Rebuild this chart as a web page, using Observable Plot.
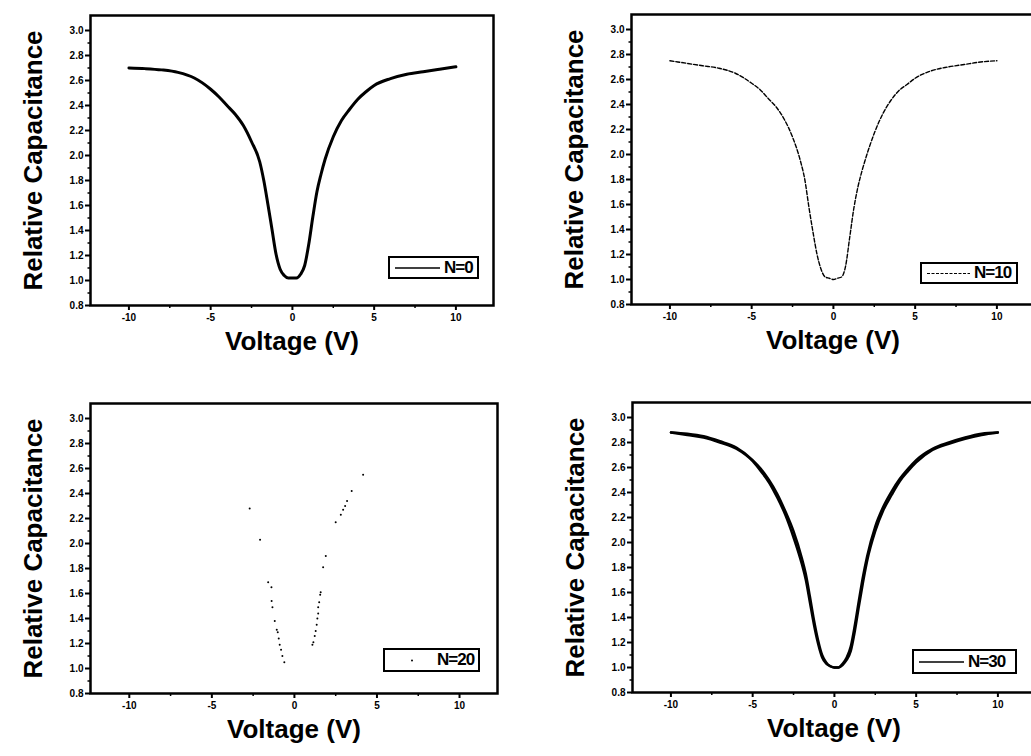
<!DOCTYPE html>
<html>
<head>
<meta charset="utf-8">
<script src="https://cdn.jsdelivr.net/npm/d3@7"></script>
<script src="https://cdn.jsdelivr.net/npm/@observablehq/plot@0.6"></script>
<style>
  html, body { margin: 0; padding: 0; background: #fff; overflow: hidden; }
  #root { position: relative; width: 1031px; height: 756px; overflow: hidden; background: #fff; }
  .panel { position: absolute; }
  .panel svg { max-width: none !important; display: block; }
  .legend { position: absolute; box-sizing: border-box; border: 2.5px solid #000; background: #fff;
            display: flex; align-items: center; font-family: "Liberation Sans", Arial, sans-serif;
            font-weight: bold; font-size: 17px; letter-spacing: -1px; color: #000; }
  .legend svg { display: block; }
</style>
</head>
<body>
<div id="root"></div>
<script>
// ---- data ----
const xTicks = [-10, -5, 0, 5, 10];
const xMinorTicks = [-7.5, -2.5, 2.5, 7.5];
const yTicks = [0.8, 1.0, 1.2, 1.4, 1.6, 1.8, 2.0, 2.2, 2.4, 2.6, 2.8, 3.0];
const yMinorTicks = [0.9, 1.1, 1.3, 1.5, 1.7, 1.9, 2.1, 2.3, 2.5, 2.7, 2.9];

const voltage = [-10, -9, -8, -7, -6, -5, -4.5, -4, -3.5, -3, -2.5, -2, -1.75, -1.5, -1.25, -1, -0.75, -0.5, -0.25,
                 0, 0.25, 0.5, 0.75, 1, 1.25, 1.5, 1.75, 2, 2.5, 3, 3.5, 4, 4.5, 5, 6, 7, 8, 9, 10];

const capN0 = [2.70, 2.695, 2.685, 2.665, 2.62, 2.53, 2.47, 2.40, 2.33, 2.24, 2.11, 1.95, 1.80, 1.61, 1.41, 1.21, 1.09, 1.04, 1.02,
               1.02, 1.02, 1.05, 1.12, 1.29, 1.51, 1.71, 1.85, 1.97, 2.15, 2.28, 2.37, 2.45, 2.51, 2.56, 2.615, 2.65, 2.67, 2.69, 2.71];

const capN10 = [2.75, 2.73, 2.71, 2.69, 2.65, 2.57, 2.52, 2.45, 2.38, 2.28, 2.14, 1.94, 1.80, 1.58, 1.38, 1.20, 1.08, 1.02, 1.01,
                1.00, 1.01, 1.02, 1.11, 1.34, 1.57, 1.74, 1.87, 1.98, 2.17, 2.32, 2.43, 2.51, 2.56, 2.61, 2.67, 2.70, 2.72, 2.74, 2.75];

const voltN20 = [-2.71, -2.08, -1.59, -1.39, -1.38, -1.33, -1.19, -1.07, -1.01, -0.95, -0.89, -0.81, -0.73, -0.61,
                 1.09, 1.15, 1.23, 1.29, 1.35, 1.39, 1.44, 1.44, 1.50, 1.56, 1.59, 1.74, 1.90, 2.50, 2.81, 2.95, 3.07, 3.19, 3.47, 4.16];
const capN20  = [2.28, 2.03, 1.69, 1.65, 1.54, 1.49, 1.38, 1.31, 1.29, 1.24, 1.19, 1.15, 1.10, 1.05,
                 1.19, 1.21, 1.26, 1.30, 1.35, 1.40, 1.44, 1.49, 1.53, 1.59, 1.61, 1.81, 1.90, 2.17, 2.23, 2.27, 2.30, 2.34, 2.42, 2.55];

const capN30up   = [2.88, 2.87, 2.85, 2.81, 2.76, 2.66, 2.59, 2.50, 2.39, 2.25, 2.09, 1.88, 1.75, 1.57, 1.38, 1.22, 1.10, 1.04, 1.01,
                    1.00, 1.00, 1.02, 1.06, 1.13, 1.29, 1.49, 1.68, 1.85, 2.09, 2.26, 2.38, 2.49, 2.57, 2.64, 2.74, 2.79, 2.83, 2.86, 2.88];
const capN30down = [2.88, 2.86, 2.84, 2.80, 2.75, 2.65, 2.57, 2.48, 2.36, 2.22, 2.04, 1.83, 1.70, 1.52, 1.34, 1.19, 1.08, 1.03, 1.01,
                    1.00, 1.00, 1.03, 1.08, 1.17, 1.34, 1.54, 1.73, 1.89, 2.13, 2.29, 2.41, 2.51, 2.59, 2.66, 2.75, 2.80, 2.84, 2.87, 2.88];

const labels = ["N=0", "N=10", "N=20", "N=30"];
const xTitle = "Voltage (V)";
const yTitle = "Relative Capacitance";

// ---- helpers ----
const pairs = (xs, ys) => xs.map((x, i) => ({x, y: ys[i]}));
const FONT = "'Liberation Sans', Arial, sans-serif";

function panel(dataMarks, width) {
  return Plot.plot({
    width: width, height: 380,
    marginLeft: 90, marginRight: 27, marginTop: 15, marginBottom: 75,
    x: {domain: [-12.35, 12.3]},
    y: {domain: [0.8, 3.12]},
    style: {fontFamily: FONT, fontWeight: "bold", background: "transparent", color: "#000", overflow: "visible"},
    marks: [
      Plot.axisX({ticks: xMinorTicks, tickSize: 3, tickFormat: () => "", strokeWidth: 1.5, label: null}),
      Plot.axisX({ticks: xTicks, tickSize: 5, tickPadding: 3, tickFormat: d => String(d), fontSize: 10,
                  fontWeight: "bold", strokeWidth: 2, label: null}),
      Plot.axisY({ticks: yMinorTicks, tickSize: 2.5, tickFormat: () => "", strokeWidth: 1.5, label: null}),
      Plot.axisY({ticks: yTicks, tickSize: 5, tickPadding: 2, tickFormat: d3.format(".1f"), fontSize: 10,
                  fontWeight: "bold", strokeWidth: 2, label: null}),
      ...dataMarks,
      Plot.frame({stroke: "#000", strokeWidth: 2.5}),
      Plot.text([yTitle], {frameAnchor: "left", textAnchor: "middle", rotate: -90, dx: -57, fontSize: 26, fontWeight: "bold", fill: "#000"}),
      Plot.text([xTitle], {frameAnchor: "bottom", textAnchor: "middle", dy: 44, fontSize: 26, fontWeight: "bold", fill: "#000"})
    ]
  });
}

const root = document.getElementById("root");
function place(node, left, top, width) {
  const d = document.createElement("div");
  d.className = "panel";
  d.style.left = left + "px";
  d.style.top = top + "px";
  d.style.width = width + "px";
  d.style.height = "380px";
  d.appendChild(node);
  root.appendChild(d);
}

function legend(left, top, w, h, sampleSvg, text, sampleW) {
  const d = document.createElement("div");
  d.className = "legend";
  d.style.left = left + "px"; d.style.top = top + "px";
  d.style.width = w + "px"; d.style.height = h + "px";
  d.innerHTML = `<svg width="${sampleW}" height="${h - 5}">${sampleSvg}</svg><span>${text}</span>`;
  root.appendChild(d);
}

// Panel 1: N=0
place(panel([
  Plot.line(pairs(voltage, capN0), {x: "x", y: "y", stroke: "#000", strokeWidth: 3, curve: "monotone-x"})
], 520), 0, 0, 520);

// Panel 2: N=10
place(panel([
  Plot.line(pairs(voltage, capN10), {x: "x", y: "y", stroke: "#000", strokeWidth: 1.4, strokeDasharray: "4,2", curve: "monotone-x"})
], 520), 541, -1, 520);

// Panel 3: N=20
place(panel([
  Plot.dot(pairs(voltN20, capN20), {x: "x", y: "y", r: 1, fill: "#000", stroke: "none"})
], 524), 0, 388, 524);

// Panel 4: N=30
place(panel([
  Plot.line(pairs(voltage, capN30up), {x: "x", y: "y", stroke: "#000", strokeWidth: 2.4, curve: "monotone-x"}),
  Plot.line(pairs(voltage, capN30down), {x: "x", y: "y", stroke: "#000", strokeWidth: 2.4, curve: "monotone-x"})
], 520), 542, 387, 520);

// Legends
legend(388, 256, 91, 23, `<line x1="5" x2="50" y1="9" y2="9" stroke="#000" stroke-width="1.6"/>`, labels[0], 54);
legend(920, 262, 98, 22, `<line x1="5" x2="48" y1="8.5" y2="8.5" stroke="#000" stroke-width="1.2" stroke-dasharray="3,1.5"/>`, labels[1], 52);
legend(383, 648, 97, 24, `<circle cx="27" cy="9.5" r="1" fill="#000"/>`, labels[2], 52);
legend(912, 649, 105, 25, `<line x1="5" x2="50" y1="10" y2="10" stroke="#000" stroke-width="1.6"/>`, labels[3], 54);
</script>
</body>
</html>
